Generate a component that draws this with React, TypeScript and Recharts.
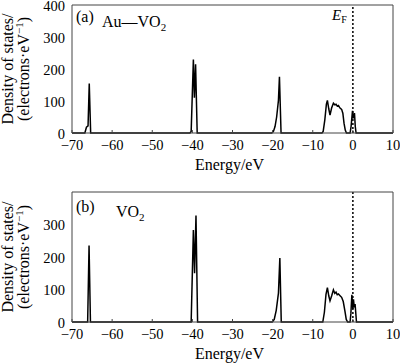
import { LineChart, Line, XAxis, YAxis, ReferenceLine } from 'recharts';

// tick values
const xTicks = [-70, -60, -50, -40, -30, -20, -10, 0, 10];
const yTicksAu = [0, 100, 200, 300, 400];
const yTicksVo2 = [0, 100, 200, 300];
const fermiLevel = 0;

// (a) Au-VO2 total DOS
const auEnergy = [
    -70, -66.8, -66.4, -66.0, -65.7, -65.35, -65.1,
    -40.6, -40.3, -39.75, -39.5, -39.2, -38.8, -38.5,
    -20.2, -19.8, -19.4, -19.0, -18.55, -18.3, -17.9, -17.6,
    -7.7, -7.4, -7.0, -6.6, -6.35, -6.0, -5.7, -5.3, -4.85, -4.5, -4.2, -3.9, -3.6, -3.2, -2.8, -2.5, -2.2, -1.9, -1.6,
    -0.7, -0.45, -0.1, 0.07, 0.25, 0.4, 0.6, 0.8, 10,
];
const auDos = [
    0, 0, 18, 22, 155, 0, 0,
    0, 5, 230, 110, 215, 0, 0,
    0, 5, 20, 50, 102, 176, 0, 0,
    0, 5, 40, 90, 102, 75, 56, 78, 93, 88, 90, 84, 86, 78, 74, 62, 30, 9, 0,
    0, 20, 69, 46, 55, 62, 20, 0, 0,
];

// (b) VO2 total DOS
const vo2Energy = [
    -70, -66.1, -65.75, -65.4,
    -40.3, -39.75, -39.45, -39.1, -38.7,
    -20.1, -19.6, -19.1, -18.55, -18.2, -17.85,
    -7.5, -7.1, -6.7, -6.35, -6.0, -5.7, -5.3, -4.85, -4.5, -4.2, -3.9, -3.6, -3.2, -2.8, -2.4, -2.0, -1.65, -1.3,
    -0.7, -0.5, -0.25, 0.0, 0.15, 0.35, 0.55, 0.9, 10,
];
const vo2Dos = [
    0, 0, 235, 0,
    0, 283, 150, 328, 0,
    0, 8, 36, 89, 197, 0,
    0, 30, 85, 106, 80, 65, 80, 99, 88, 92, 84, 86, 81, 76, 63, 35, 8, 0,
    0, 25, 84, 40, 70, 45, 55, 0, 0,
];

const FONT = '"Liberation Serif", "Times New Roman", serif';
const AXIS = '#444';
const TICK_GAP = 7;

const toRows = (e: number[], d: number[]) => e.map((v, i) => ({ e: v, dos: d[i] }));

const fmt = (v: number) => (v < 0 ? `\u2212${-v}` : `${v}`);

function XTick(props: any) {
    const { x, y, payload } = props;
    return (
        <g>
            <line x1={x} x2={x} y1={y - TICK_GAP} y2={y - TICK_GAP - 3} stroke={AXIS} />
            <text x={x} y={y} dy="0.66em" textAnchor="middle" fontFamily={FONT} fontSize={14.5} fill="#000">
                {fmt(payload.value)}
            </text>
        </g>
    );
}

function YTick(props: any) {
    const { x, y, payload } = props;
    return (
        <text x={x} y={y} dy="0.4em" textAnchor="end" fontFamily={FONT} fontSize={14.5} fill="#000">
            {payload.value}
        </text>
    );
}

function YTitle(props: any) {
    const { viewBox } = props;
    const cy = viewBox.y + viewBox.height / 2;
    return (
        <text transform={`translate(0, ${cy}) rotate(-90)`} textAnchor="middle" fontFamily={FONT} fontSize={16} fill="#000">
            <tspan x={0} y={13}>Density of states/</tspan>
            <tspan x={0} y={29}>
                (electrons·eV<tspan dy={-6} fontSize={11}>−1</tspan><tspan dy={6}>)</tspan>
            </tspan>
        </text>
    );
}

function XTitle(props: any) {
    const { viewBox } = props;
    return (
        <text x={viewBox.x + viewBox.width / 2 - 3} y={viewBox.y + 37} textAnchor="middle" fontFamily={FONT} fontSize={16} fill="#000">
            Energy/eV
        </text>
    );
}

interface PanelProps {
    rows: { e: number; dos: number }[];
    yTicks: number[];
    top: number;
    height: number;
    padTop: number;
    padBottom: number;
}

function DosPanel({ rows, yTicks, top, height, padTop, padBottom }: PanelProps) {
    return (
        <div style={{ position: 'absolute', left: 0, top }}>
            <LineChart width={400} height={height} data={rows} margin={{ top: 0, right: 0, bottom: 0, left: 0 }}>
                <XAxis
                    xAxisId="top"
                    orientation="top"
                    type="number"
                    domain={[-70, 10]}
                    height={padTop}
                    tick={false}
                    tickLine={false}
                    stroke={AXIS}
                />
                <YAxis
                    yAxisId="right"
                    orientation="right"
                    type="number"
                    domain={[0, 400]}
                    width={7}
                    tick={false}
                    tickLine={false}
                    stroke={AXIS}
                />
                <XAxis
                    dataKey="e"
                    type="number"
                    domain={[-70, 10]}
                    ticks={xTicks}
                    interval={0}
                    height={padBottom}
                    tickSize={0}
                    tickMargin={TICK_GAP}
                    tickLine={false}
                    tick={<XTick />}
                    stroke={AXIS}
                    label={<XTitle />}
                />
                <YAxis
                    type="number"
                    domain={[0, 400]}
                    ticks={yTicks}
                    interval={0}
                    width={72}
                    tickSize={0}
                    tickMargin={7}
                    tickLine={false}
                    tick={<YTick />}
                    stroke={AXIS}
                    label={<YTitle />}
                />
                <ReferenceLine x={fermiLevel} stroke="#000" strokeWidth={1.5} strokeDasharray="2 2" />
                <Line
                    type="linear"
                    dataKey="dos"
                    stroke="#000"
                    strokeWidth={1.5}
                    dot={false}
                    isAnimationActive={false}
                />
            </LineChart>
        </div>
    );
}

export default function App() {
    return (
        <div style={{ position: 'absolute', left: 0, top: 0, width: 400, height: 363, background: '#fff' }}>
            <DosPanel
                rows={toRows(auEnergy, auDos)}
                yTicks={yTicksAu}
                top={0}
                height={180}
                padTop={5}
                padBottom={47}
            />
            <DosPanel
                rows={toRows(vo2Energy, vo2Dos)}
                yTicks={yTicksVo2}
                top={180}
                height={183}
                padTop={12}
                padBottom={41}
            />
            <svg width={400} height={363} style={{ position: 'absolute', left: 0, top: 0, pointerEvents: 'none' }}>
                <g fontFamily={FONT} fill="#000">
                    <text x={76} y={22} fontSize={16}>(a)</text>
                    <text x={102} y={27} fontSize={16}>
                        Au—VO<tspan dy={4} fontSize={11}>2</tspan>
                    </text>
                    <text x={332} y={20} fontSize={15}>
                        <tspan fontStyle="italic">E</tspan><tspan dy={3} fontSize={10}>F</tspan>
                    </text>
                    <text x={76} y={212} fontSize={16}>(b)</text>
                    <text x={116} y={217} fontSize={16}>
                        VO<tspan dy={4} fontSize={11}>2</tspan>
                    </text>
                </g>
            </svg>
        </div>
    );
}
